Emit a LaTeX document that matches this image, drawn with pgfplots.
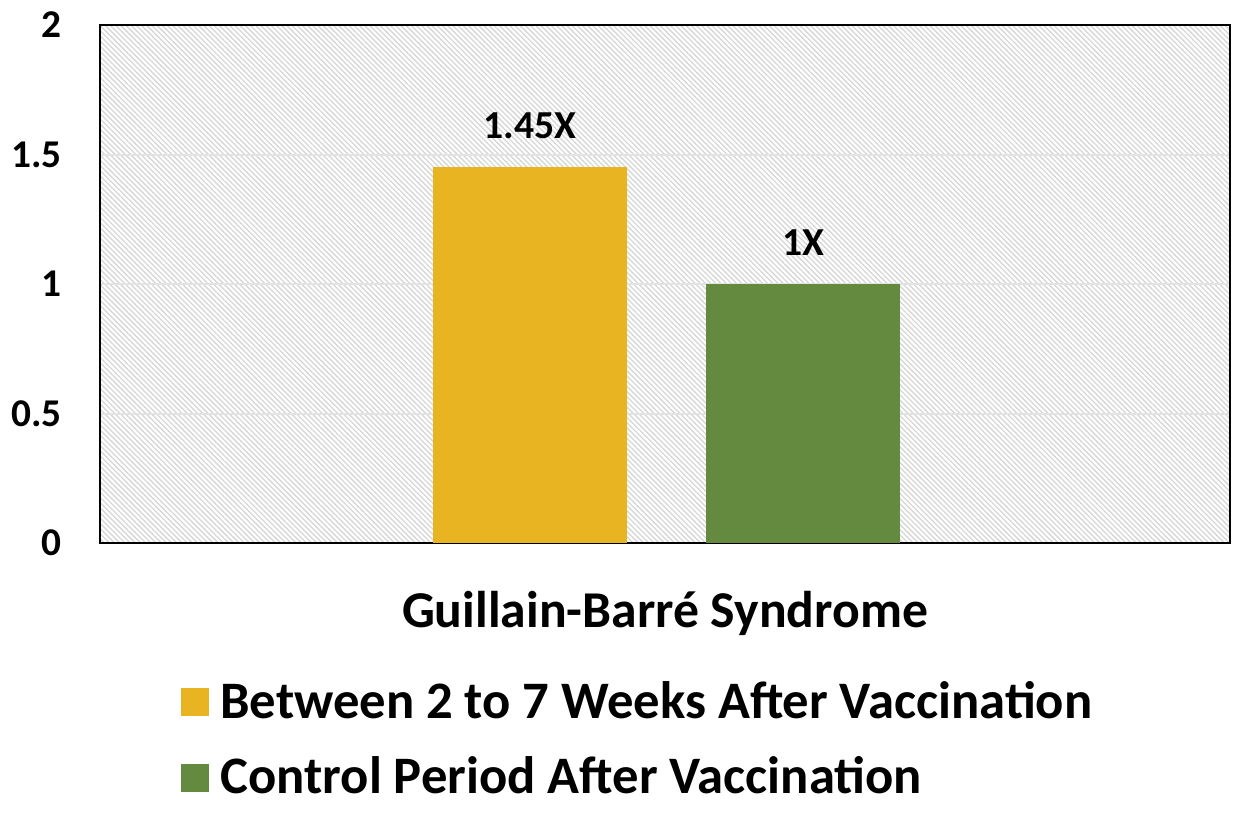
\documentclass[border=0pt]{standalone}
\usepackage{fontspec}
\setmainfont{Carlito}
\usepackage{pgfplots}
\pgfplotsset{compat=1.18}
\usetikzlibrary{patterns.meta}
\definecolor{barY}{HTML}{E9B422}
\definecolor{barG}{HTML}{638A3F}
\begin{document}
\begin{tikzpicture}
\begin{axis}[
  width=339pt, height=155.4pt, scale only axis,
  xmin=0, xmax=1130, ymin=0, ymax=2,
  ytick={0,0.5,1,1.5,2},
  xtick={565}, xticklabels={Guillain-Barré Syndrome},
  major tick length=0pt,
  /pgf/number format/assume math mode=true,
  yticklabel style={font=\bfseries\fontsize{11.8}{13}\selectfont, xshift=-8pt},
  xticklabel style={font=\bfseries\fontsize{15.5}{17}\selectfont, yshift=-11pt},
  ymajorgrids=true,
  major grid style={gray!22, line width=0.6pt},
  axis line style={black, line width=0.8pt},
  axis background/.style={pattern={Lines[angle=-45,distance=1.1pt,line width=0.4pt]}, pattern color=gray!32},
  ybar, bar width=194, clip=false,
  nodes near coords={\pgfmathprintnumber{\pgfplotspointmeta}X},
  every node near coord/.append style={font=\bfseries\fontsize{11.9}{13}\selectfont, yshift=5pt, black},
  legend image code/.code={\fill[#1] (0pt,-4.2pt) rectangle (8.4pt,4.2pt);},
  legend style={draw=none, fill=none, font=\bfseries\fontsize{15.8}{18}\selectfont,
    at={(rel axis cs:0.062,-0.24)}, anchor=north west, row sep=6pt,
    /tikz/every odd column/.append style={column sep=1.5pt}},
  legend cell align=left,
]
\addplot[fill=barY, draw=none, bar shift=0pt] coordinates {(430,1.45)};
\addlegendentry{Between 2 to 7 Weeks After Vaccination}
\addplot[fill=barG, draw=none, bar shift=0pt] coordinates {(703,1)};
\addlegendentry{Control Period After Vaccination}
\path (rel axis cs:-0.0885,-0.4903) rectangle (rel axis cs:1.0044,1.0483);
\end{axis}
\end{tikzpicture}
\end{document}
